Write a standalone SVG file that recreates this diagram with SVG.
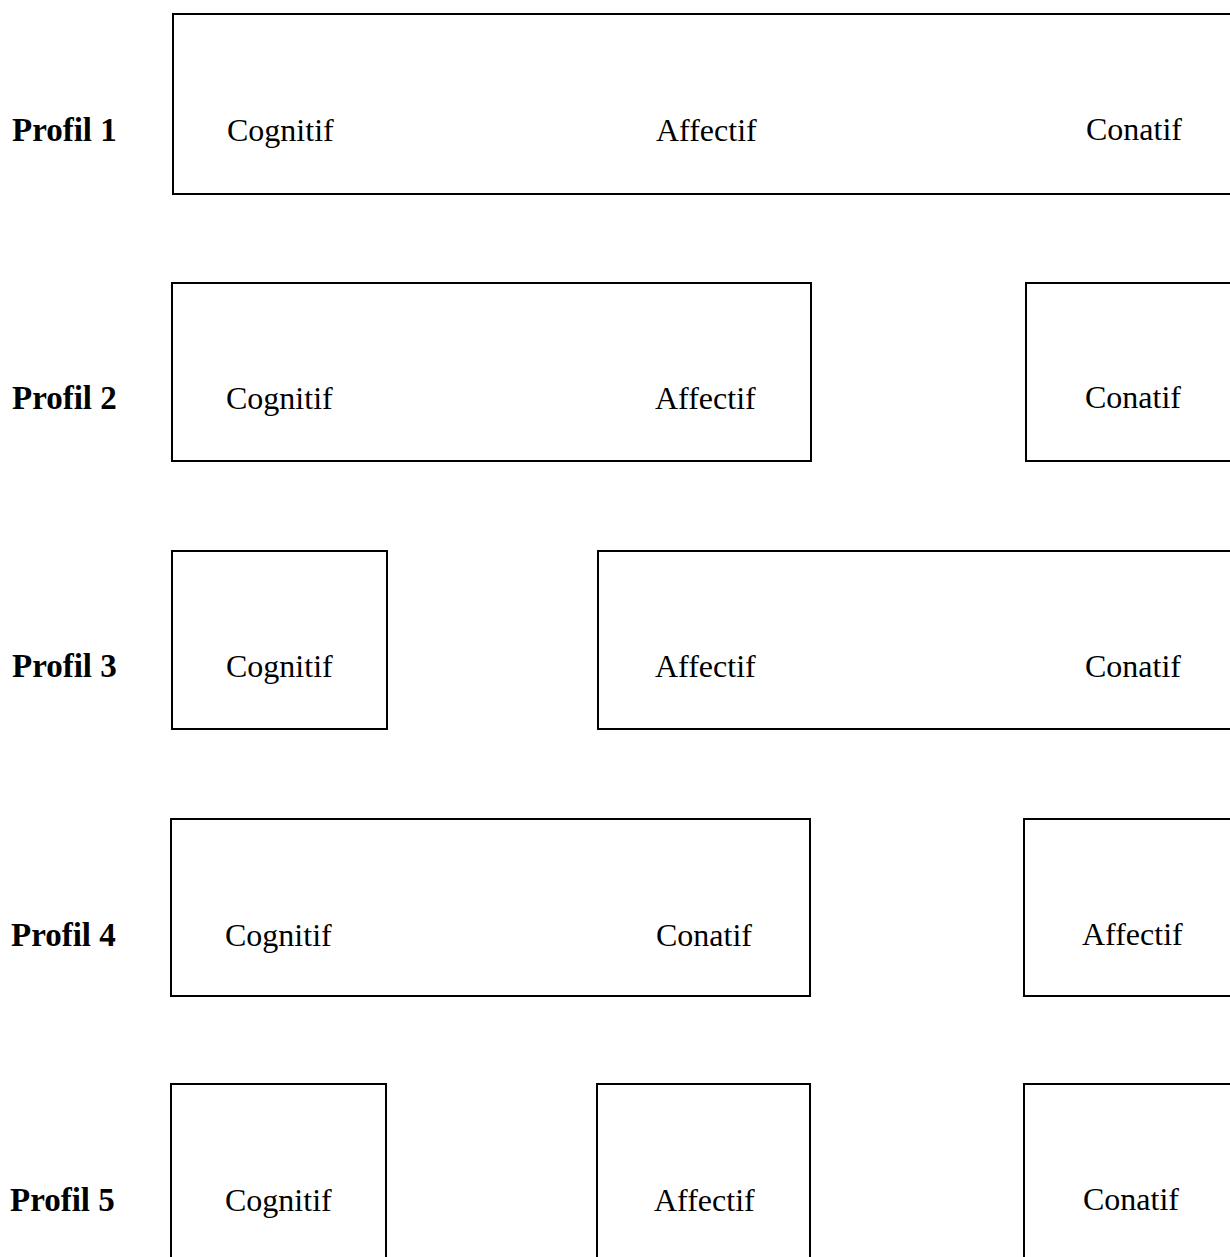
<svg xmlns="http://www.w3.org/2000/svg" width="1230" height="1257" viewBox="0 0 1230 1257">
<style>
.box{fill:none;stroke:#000;stroke-width:2}
.lbl{font-family:"Liberation Serif",serif;font-size:32px;fill:#000}
.prof{font-family:"Liberation Serif",serif;font-size:33px;font-weight:bold;fill:#000}
</style>
<rect width="1230" height="1257" fill="#fff"/>
<g id="labels">
<text class="prof" x="12" y="141">Profil 1</text>
<text class="prof" x="12" y="409">Profil 2</text>
<text class="prof" x="12" y="677">Profil 3</text>
<text class="prof" x="11" y="946">Profil 4</text>
<text class="prof" x="10" y="1211">Profil 5</text>
</g>
<g id="p1box"><rect class="box" x="173" y="14" width="1080" height="180"/>
<text class="lbl" x="227" y="141">Cognitif</text><text class="lbl" x="656" y="141">Affectif</text><text class="lbl" x="1086" y="140">Conatif</text></g>
<g id="p2a"><rect class="box" x="172" y="283" width="639" height="178"/>
<text class="lbl" x="226" y="409">Cognitif</text><text class="lbl" x="655" y="409">Affectif</text></g>
<g id="p2b"><rect class="box" x="1026" y="283" width="230" height="178"/>
<text class="lbl" x="1085" y="408">Conatif</text></g>
<g id="p3a"><rect class="box" x="172" y="551" width="215" height="178"/>
<text class="lbl" x="226" y="677">Cognitif</text></g>
<g id="p3b"><rect class="box" x="598" y="551" width="660" height="178"/>
<text class="lbl" x="655" y="677">Affectif</text><text class="lbl" x="1085" y="677">Conatif</text></g>
<g id="p4a"><rect class="box" x="171" y="819" width="639" height="177"/>
<text class="lbl" x="225" y="946">Cognitif</text><text class="lbl" x="656" y="946">Conatif</text></g>
<g id="p4b"><rect class="box" x="1024" y="819" width="230" height="177"/>
<text class="lbl" x="1082" y="945">Affectif</text></g>
<g id="p5a"><rect class="box" x="171" y="1084" width="215" height="200"/>
<text class="lbl" x="225" y="1211">Cognitif</text></g>
<g id="p5b"><rect class="box" x="597" y="1084" width="213" height="200"/>
<text class="lbl" x="654" y="1211">Affectif</text></g>
<g id="p5c"><rect class="box" x="1024" y="1084" width="230" height="200"/>
<text class="lbl" x="1083" y="1210">Conatif</text></g>
<g id="connectors"/>
</svg>
